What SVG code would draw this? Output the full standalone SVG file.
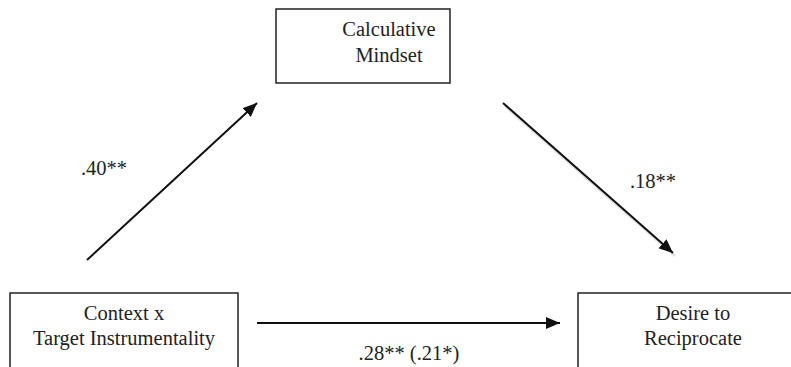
<svg xmlns="http://www.w3.org/2000/svg" width="791" height="367" viewBox="0 0 791 367">
<style>
.box{fill:#fff;stroke:#222;stroke-width:1.5}
.c{stroke:#111;stroke-width:2;fill:none}
</style>
<defs>
<marker id="ah" markerUnits="userSpaceOnUse" markerWidth="14" markerHeight="12" refX="14" refY="6" orient="auto">
<path d="M0,0 L14,6 L0,12 Z" fill="#111"/>
</marker>
</defs>
<rect width="791" height="367" fill="#fff"/>
<g font-family="Liberation Serif, serif" font-size="20.5" fill="#222" text-anchor="middle">
<g id="calc">
<rect class="box" x="276" y="9" width="174" height="74"/>
<text x="389" y="36">Calculative</text>
<text x="389" y="62">Mindset</text>
</g>
<g id="context">
<rect class="box" x="10" y="293" width="228" height="90"/>
<text x="124" y="320">Context x</text>
<text x="124" y="345">Target Instrumentality</text>
</g>
<g id="desire">
<rect class="box" x="578" y="293" width="230" height="90"/>
<text x="693" y="320">Desire to</text>
<text x="693" y="345">Reciprocate</text>
</g>
<g id="connectors">
<line class="c" x1="87" y1="260" x2="257" y2="103" marker-end="url(#ah)"/>
<line x1="505" y1="106" x2="675" y2="256" stroke="#ccc" stroke-width="3" opacity="0.5"/>
<line class="c" x1="503" y1="103" x2="673" y2="253" marker-end="url(#ah)"/>
<line class="c" x1="257" y1="323" x2="560" y2="323" marker-end="url(#ah)"/>
<text x="104" y="175">.40**</text>
<text x="653" y="188">.18**</text>
<text x="409" y="360">.28** (.21*)</text>
</g>
</g>
</svg>
